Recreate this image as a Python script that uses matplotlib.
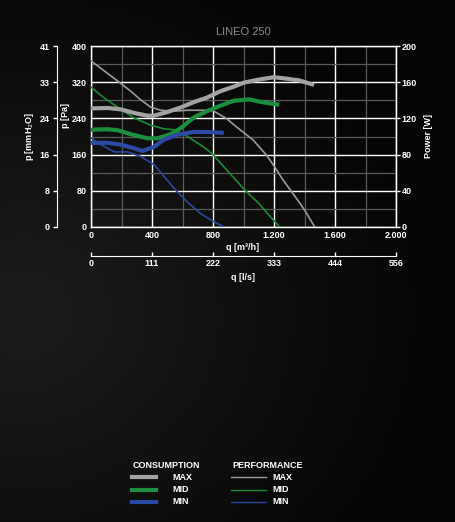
import numpy as np
import matplotlib
matplotlib.use("Agg")
import matplotlib.pyplot as plt
from matplotlib.lines import Line2D

# ---------------- data ----------------
title = "LINEO 250"
q_max_perf = [0, 87, 185, 261, 326, 391, 457, 543, 630, 739, 800, 887, 955, 1015, 1061, 1148, 1202, 1257, 1311, 1365, 1409, 1467]
p_max_perf = [367, 345, 320, 300, 281, 265, 258, 256, 258, 258, 257, 240, 221, 205, 193, 160, 134, 105, 80, 55, 33, 0]
q_mid_perf = [0, 87, 196, 283, 391, 478, 543, 609, 674, 750, 800, 887, 957, 1002, 1104, 1170, 1238]
p_mid_perf = [309, 285, 260, 241, 225, 217, 215, 205, 191, 174, 160, 127, 101, 84, 51, 25, 0]
q_min_perf = [0, 65, 152, 239, 326, 413, 478, 554, 630, 717, 804, 875]
p_min_perf = [197, 182, 166, 166, 156, 138, 112, 82, 56, 30, 12, 0]

q_max_cons = [0, 109, 196, 283, 370, 413, 500, 587, 674, 761, 848, 935, 1002, 1104, 1198, 1278, 1365, 1463]
w_max_cons = [131, 131.5, 130, 126, 123, 123, 127, 132, 138, 143, 150, 155, 159.5, 163, 165.5, 164, 162, 157]
q_mid_cons = [0, 109, 174, 261, 370, 435, 522, 587, 674, 761, 848, 935, 1039, 1104, 1235]
w_mid_cons = [107.5, 108, 107, 102.5, 98, 98, 102.5, 109, 121, 128, 134, 139.5, 141, 138.5, 135]
q_min_cons = [0, 109, 196, 283, 337, 413, 478, 565, 674, 761, 870]
w_min_cons = [93, 93, 91, 87, 84, 88.5, 96.5, 102, 105, 105, 104]

q_ticks = [0, 400, 800, 1200, 1600, 2000]
q_tick_labels = ["0", "400", "800", "1.200", "1.600", "2.000"]
ls_tick_labels = ["0", "111", "222", "333", "444", "556"]
pa_ticks = [0, 80, 160, 240, 320, 400]
mm_tick_labels = ["0", "8", "16", "24", "33", "41"]
w_ticks = [0, 40, 80, 120, 160, 200]

c_gray = "#a3a3a3"
c_green = "#1b8f3e"
c_blue = "#2b4aa6"
c_gray_thin = "#9a9a9a"
c_green_thin = "#1a8a38"
c_blue_thin = "#2c47a0"

W, H = 455, 522
fig = plt.figure(figsize=(W / 100, H / 100), dpi=100)
fig.patch.set_facecolor("#050505")

# background gradient
bg = fig.add_axes([0, 0, 1, 1], zorder=-10)
yy, xx = np.mgrid[0:1:300j, 0:1:300j]
d = np.sqrt(((xx - 0.05) / 0.9) ** 2 + ((yy - 0.6) / 0.7) ** 2)
val = 0.09 * np.clip(1 - d, 0, 1) + 0.02
img = np.dstack([val, val, val * 0.95])
bg.imshow(img, extent=[0, 1, 0, 1], aspect="auto", origin="upper")
bg.set_axis_off()

fs = 6.5
font = dict(color="white", fontsize=fs, fontweight="bold", family="Liberation Sans")

L, R, T, B = 91, 396, 46, 227
ax = fig.add_axes([L / W, 1 - B / H, (R - L) / W, (B - T) / H])
ax.set_facecolor("none")
ax.set_xlim(0, 2000)
ax.set_ylim(0, 400)
ax.set_xticks(q_ticks)
ax.set_xticklabels(q_tick_labels)
ax.set_yticks(pa_ticks)
ax.set_xticks(range(200, 2000, 400), minor=True)
ax.set_yticks(range(40, 400, 80), minor=True)
ax.grid(which="major", color="white", lw=1.0)
ax.grid(which="minor", color="#5a5a5a", lw=0.9)
ax.set_axisbelow(True)
for s in ax.spines.values():
    s.set_color("white")
    s.set_linewidth(1.0)
ax.tick_params(which="both", length=0)
ax.tick_params(axis="x", pad=3)
ax.tick_params(axis="y", pad=3)
for lab in ax.get_xticklabels() + ax.get_yticklabels():
    lab.set(**font)

kw_thin = dict(lw=1.2, zorder=3, solid_joinstyle="round")
ax.plot(q_max_perf, p_max_perf, color=c_gray_thin, **kw_thin)
ax.plot(q_mid_perf, p_mid_perf, color=c_green_thin, **kw_thin)
ax.plot(q_min_perf, p_min_perf, color=c_blue_thin, **kw_thin)

axp = ax.twinx()
axp.set_ylim(0, 200)
axp.set_yticks(w_ticks)
axp.tick_params(axis="y", colors="white", length=3, width=1, pad=1)
for s in axp.spines.values():
    s.set_visible(False)
axp.spines["right"].set_visible(True)
axp.spines["right"].set_color("white")
for lab in axp.get_yticklabels():
    lab.set(**font)
kw_thick = dict(lw=3, zorder=4, solid_capstyle="butt", solid_joinstyle="round")
axp.plot(q_max_cons, w_max_cons, color=c_gray, **kw_thick)
axp.plot(q_mid_cons, w_mid_cons, color=c_green, **kw_thick)
axp.plot(q_min_cons, w_min_cons, color=c_blue, **kw_thick)
axp.set_ylabel("Power [W]", **font, labelpad=5)

# mmH2O axis
axm = ax.twinx()
axm.set_ylim(0, 400)
axm.set_yticks(pa_ticks)
axm.set_yticklabels(mm_tick_labels)
for s in axm.spines.values():
    s.set_visible(False)
axm.spines["left"].set_visible(True)
axm.spines["left"].set_position(("axes", (57 - L) / (R - L)))
axm.spines["left"].set_color("white")
axm.yaxis.set_ticks_position("left")
axm.yaxis.set_label_position("left")
axm.tick_params(axis="y", colors="white", length=3, width=1, pad=2)
for lab in axm.get_yticklabels():
    lab.set(**font)
axm.set_ylabel("p [mmH$_2$O]", **font, labelpad=3)

# l/s axis
axl = ax.twiny()
axl.set_xlim(0, 2000)
axl.set_xticks(q_ticks)
axl.set_xticklabels(ls_tick_labels)
for s in axl.spines.values():
    s.set_visible(False)
axl.spines["bottom"].set_visible(True)
axl.spines["bottom"].set_position(("axes", -(256 - B) / (B - T)))
axl.spines["bottom"].set_color("white")
axl.xaxis.set_ticks_position("bottom")
axl.tick_params(axis="x", colors="white", direction="in", length=3, width=1, pad=2)
for lab in axl.get_xticklabels():
    lab.set(**font)

fig.text(243 / W, 1 - 248 / H, "q [m³/h]", ha="center", va="center", **font)
fig.text(243 / W, 1 - 277 / H, "q [l/s]", ha="center", va="center", **font)
fig.text(65 / W, 1 - 116 / H, "p [Pa]", ha="center", va="center", rotation=90, **font)
fig.text(243 / W, 1 - 32 / H, title, ha="center", va="center", color="#8a8a8a",
         fontsize=8, family="Liberation Sans")

# legend
lf = dict(color="white", fontsize=6.5, fontweight="bold", family="Liberation Sans", va="center")
fig.text(133 / W, 1 - 465 / H, "CONSUMPTION", **lf)
fig.text(232 / W, 1 - 465 / H, "PERFORMANCE", **lf)
rows = [("MAX", c_gray, c_gray_thin, 477), ("MID", c_green, c_green_thin, 490), ("MIN", c_blue, c_blue_thin, 502)]
for name, ct, cp, y in rows:
    yf = 1 - y / H
    fig.add_artist(Line2D([132 / W, 156 / W], [yf, yf], color=ct, lw=3, transform=fig.transFigure))
    fig.text(172 / W, yf, name, **lf)
    fig.add_artist(Line2D([231 / W, 266 / W], [yf, yf], color=cp, lw=1, transform=fig.transFigure))
    fig.text(272 / W, yf, name, **lf)

fig.savefig("out.png", dpi=100, facecolor=fig.get_facecolor())
